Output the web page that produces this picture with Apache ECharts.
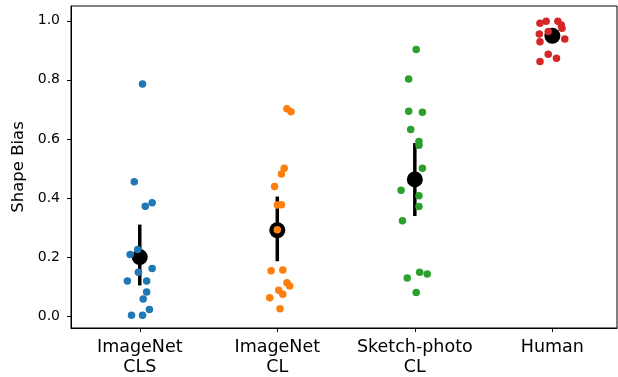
<!DOCTYPE html>
<html>
<head>
<meta charset="utf-8">
<script src="https://cdn.jsdelivr.net/npm/echarts@6/dist/echarts.min.js"></script>
<style>
  html, body { margin: 0; padding: 0; background: #fff; }
  #chart { width: 618px; height: 377px; }
</style>
</head>
<body>
<div id="chart"></div>
<script>
// categories on the x axis
const categories = ['ImageNet\nCLS', 'ImageNet\nCL', 'Sketch-photo\nCL', 'Human'];
const colors = ['#1f77b4', '#ff7f0e', '#2ca02c', '#d62728'];

// shape bias per model / participant
const clsValues = [0.786, 0.455, 0.384, 0.372, 0.226, 0.209, 0.161, 0.149, 0.119, 0.119, 0.082, 0.058, 0.023, 0.003, 0.003];
const clsJitter = [0.02, -0.04, 0.09, 0.04, -0.015, -0.07, 0.09, -0.01, -0.09, 0.05, 0.05, 0.025, 0.07, -0.06, 0.02];

const clValues = [0.702, 0.692, 0.501, 0.481, 0.439, 0.376, 0.377, 0.293, 0.154, 0.156, 0.113, 0.102, 0.088, 0.074, 0.062, 0.025];
const clJitter = [0.07, 0.10, 0.05, 0.03, -0.02, 0.0, 0.03, 0.0, -0.045, 0.04, 0.07, 0.09, 0.01, 0.04, -0.055, 0.02];

const sketchValues = [0.903, 0.803, 0.694, 0.690, 0.632, 0.591, 0.579, 0.501, 0.426, 0.408, 0.371, 0.323, 0.149, 0.143, 0.129, 0.080];
const sketchJitter = [0.01, -0.045, -0.045, 0.055, -0.03, 0.03, 0.03, 0.055, -0.10, 0.03, 0.03, -0.09, 0.035, 0.09, -0.055, 0.01];

const humanValues = [0.992, 0.998, 0.998, 0.986, 0.975, 0.955, 0.964, 0.929, 0.938, 0.887, 0.873, 0.862];
const humanJitter = [-0.09, -0.045, 0.04, 0.065, 0.07, -0.095, -0.03, -0.09, 0.09, -0.03, 0.03, -0.09];

// mean and confidence interval per category
const means = [0.200, 0.291, 0.463, 0.949];
const ciLow = [0.104, 0.186, 0.339, 0.928];
const ciHigh = [0.310, 0.405, 0.586, 0.966];

const xTicks = [0, 1, 2, 3];
const yTicks = [0, 0.2, 0.4, 0.6, 0.8, 1.0];

const groups = [
  [clsValues, clsJitter],
  [clValues, clJitter],
  [sketchValues, sketchJitter],
  [humanValues, humanJitter],
];

const chart = echarts.init(document.getElementById('chart'), null, { renderer: 'canvas' });
const font = 'DejaVu Sans';

const stripSeries = groups.map((g, i) => ({
  type: 'scatter',
  symbolSize: 7.5,
  itemStyle: { color: colors[i], opacity: 1 },
  z: 5,
  data: g[0].map((v, k) => [i + g[1][k], v]),
}));

const option = {
  animation: false,
  grid: {
    left: 71, right: 1, top: 6, bottom: 48,
    show: true, borderColor: '#000', borderWidth: 1,
  },
  xAxis: {
    type: 'value',
    min: -0.5,
    max: 3.47,
    axisLine: { show: true, onZero: false, lineStyle: { color: '#000', width: 1 } },
    axisTick: { show: true, length: 4, customValues: xTicks, lineStyle: { color: '#000' } },
    axisLabel: {
      color: '#000', fontFamily: font, fontSize: 17.5, lineHeight: 20, margin: 9,
      customValues: xTicks,
      formatter: v => categories[Math.round(v)],
    },
    splitLine: { show: false },
  },
  yAxis: {
    type: 'value',
    min: -0.04,
    max: 1.05,
    name: 'Shape Bias',
    nameLocation: 'middle',
    nameGap: 42,
    nameTextStyle: { color: '#000', fontFamily: font, fontSize: 16.5 },
    axisLine: { show: true, onZero: false, lineStyle: { color: '#000', width: 1 } },
    axisTick: { show: true, length: 4, customValues: yTicks, lineStyle: { color: '#000' } },
    axisLabel: {
      color: '#000', fontFamily: font, fontSize: 14, margin: 11,
      customValues: yTicks,
      formatter: v => v.toFixed(1),
    },
    splitLine: { show: false },
  },
  series: [
    {
      type: 'custom',
      z: 2,
      data: means.map((m, i) => [i, ciLow[i], ciHigh[i]]),
      renderItem: (params, api) => {
        const p1 = api.coord([api.value(0), api.value(1)]);
        const p2 = api.coord([api.value(0), api.value(2)]);
        return {
          type: 'line',
          shape: { x1: p1[0], y1: p1[1], x2: p2[0], y2: p2[1] },
          style: { stroke: '#000', lineWidth: 3.5 },
        };
      },
    },
    {
      type: 'scatter',
      symbolSize: 16,
      z: 3,
      itemStyle: { color: '#000', opacity: 1 },
      data: means.map((m, i) => [i, m]),
    },
    ...stripSeries,
  ],
};

chart.setOption(option);
</script>
</body>
</html>
